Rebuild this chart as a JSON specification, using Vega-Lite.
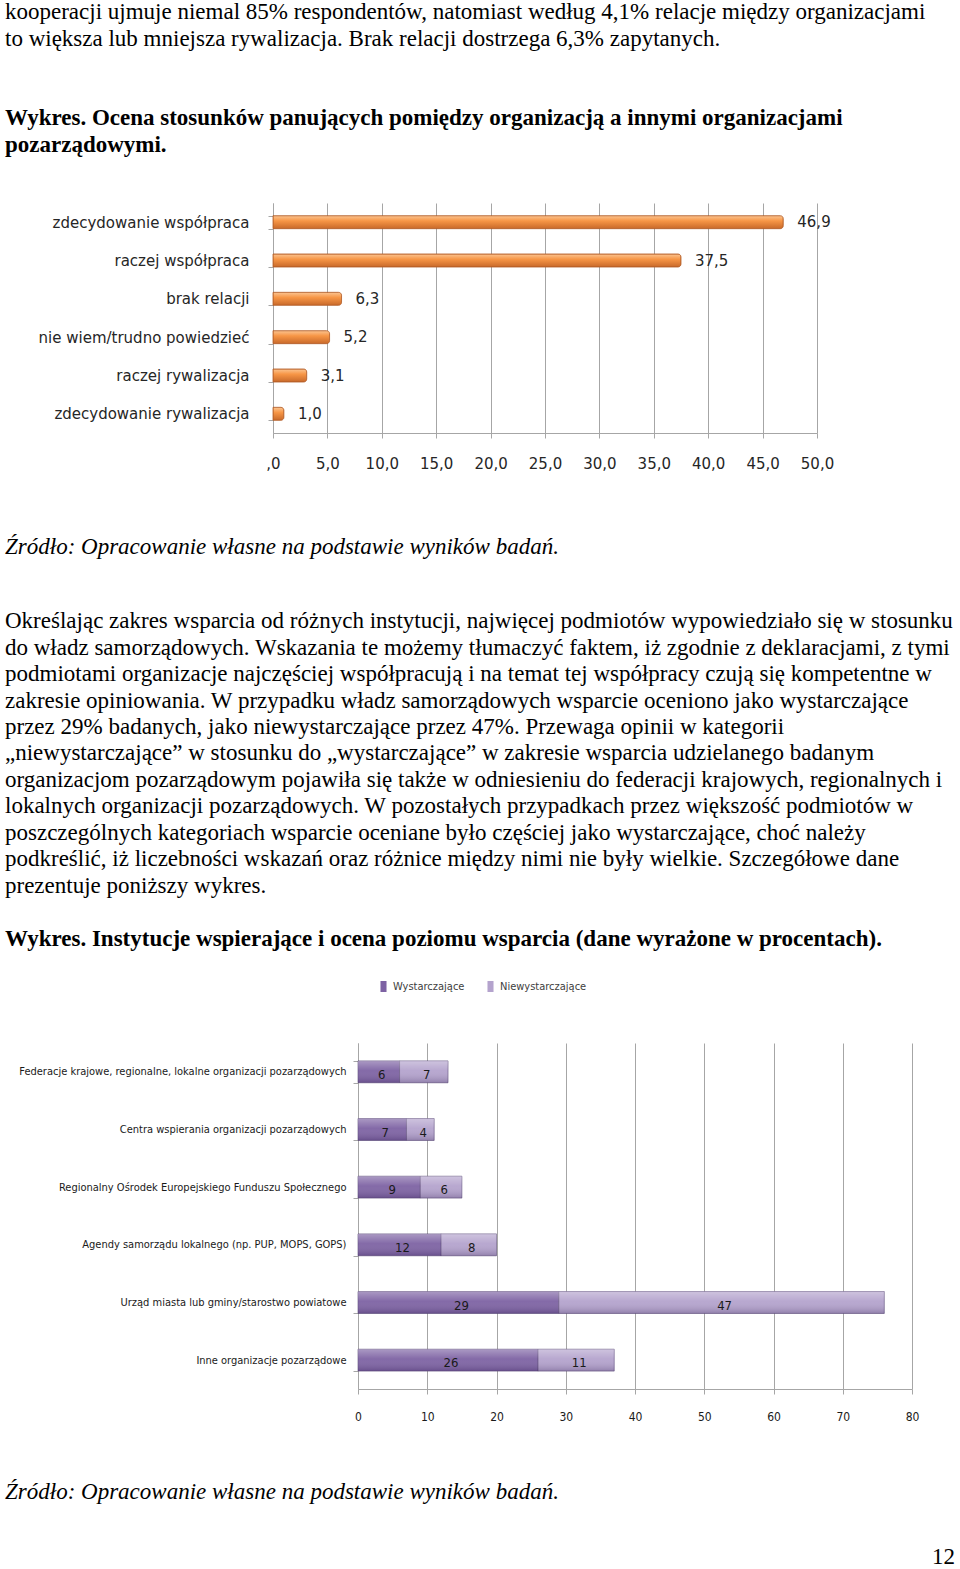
{
  "$schema": "https://vega.github.io/schema/vega-lite/v6.json",
  "padding": 0,
  "spacing": 0,
  "bounds": "flush",
  "background": "white",
  "config": {"view": {"stroke": null}},
  "vconcat": [
    {
      "width": 960, "height": 203,
      "data": {"values": [
        {"line": 0, "styl": "normal", "tekst": "kooperacji ujmuje niemal 85% respondentów, natomiast według 4,1%  relacje między organizacjami"},
        {"line": 1, "styl": "normal", "tekst": "to większa lub mniejsza rywalizacja. Brak relacji dostrzega 6,3% zapytanych."},
        {"line": 4, "styl": "bold", "tekst": "Wykres. Ocena stosunków panujących pomiędzy organizacją a innymi organizacjami"},
        {"line": 5, "styl": "bold", "tekst": "pozarządowymi."}
      ]},
      "encoding": {
        "y": {"field": "line", "type": "quantitative", "scale": {"domain": [-0.453, 7.207], "range": [0, 203]}, "axis": null},
        "x": {"datum": 0, "type": "quantitative", "scale": {"domain": [0, 1], "range": [5, 955]}, "axis": null},
        "text": {"field": "tekst"}
      },
      "layer": [
        {"transform": [{"filter": "datum.styl === 'normal'"}], "mark": {"type": "text", "align": "left", "baseline": "middle", "font": "Liberation Serif", "fontSize": 23, "color": "#000"}},
        {"transform": [{"filter": "datum.styl === 'bold'"}], "mark": {"type": "text", "align": "left", "baseline": "middle", "font": "Liberation Serif", "fontSize": 23, "fontWeight": "bold", "color": "#000"}}
      ]
    },
    {
      "width": 960, "height": 230,
      "data": {"values": [
        {"kategoria": "zdecydowanie współpraca", "procent": 46.9},
        {"kategoria": "raczej współpraca", "procent": 37.5},
        {"kategoria": "brak relacji", "procent": 6.3},
        {"kategoria": "nie wiem/trudno powiedzieć", "procent": 5.2},
        {"kategoria": "raczej rywalizacja", "procent": 3.1},
        {"kategoria": "zdecydowanie rywalizacja", "procent": 1.0}
      ]},
      "transform": [{"calculate": "replace(format(datum.procent, '.1f'), '.', ',')", "as": "etykieta"}],
      "encoding": {
        "y": {"field": "kategoria", "type": "nominal", "sort": null,
          "scale": {"paddingInner": 0.66, "paddingOuter": 0.33},
          "axis": {"title": null, "offset": -273, "labelFont": "DejaVu Sans", "labelFontSize": 15, "labelColor": "#262626", "labelLimit": 400, "tickSize": 5, "labelPadding": 19, "domainColor": "#a6a6a6", "tickColor": "#a6a6a6", "tickBand": "extent", "grid": false}},
        "x": {"field": "procent", "type": "quantitative",
          "scale": {"domain": [0, 50], "range": [273, 817], "nice": false},
          "axis": {"title": null, "values": [0, 5, 10, 15, 20, 25, 30, 35, 40, 45, 50], "labelFlush": false, "labelExpr": "datum.value == 0 ? ',0' : replace(format(datum.value, '.1f'), '.', ',')", "labelFont": "DejaVu Sans", "labelFontSize": 15, "labelColor": "#262626", "tickSize": 5, "labelPadding": 18, "domainColor": "#a6a6a6", "tickColor": "#a6a6a6", "grid": true, "gridColor": "#a6a6a6", "gridWidth": 1}}
      },
      "layer": [
        {"mark": {"type": "bar", "stroke": "#b5602a", "strokeWidth": 0.8, "cornerRadiusEnd": 3,
          "fill": {"gradient": "linear", "x1": 0, "y1": 0, "x2": 0, "y2": 1, "stops": [
            {"offset": 0, "color": "#fbc592"}, {"offset": 0.4, "color": "#f79646"}, {"offset": 1, "color": "#c8692a"}]}}},
        {"mark": {"type": "text", "align": "left", "baseline": "middle", "dx": 14, "font": "DejaVu Sans", "fontSize": 15, "color": "#262626"},
          "encoding": {"text": {"field": "etykieta"}}}
      ]
    },
    {
      "width": 960, "height": 157,
      "data": {"values": [
        {"line": 0, "tekst": "Źródło: Opracowanie własne na podstawie wyników badań."}
      ]},
      "mark": {"type": "text", "align": "left", "baseline": "middle", "font": "Liberation Serif", "fontSize": 23, "fontStyle": "italic", "color": "#000"},
      "encoding": {
        "y": {"field": "line", "type": "quantitative", "scale": {"domain": [-4.302, 1.623], "range": [0, 157]}, "axis": null},
        "x": {"datum": 0, "type": "quantitative", "scale": {"domain": [0, 1], "range": [5, 955]}, "axis": null},
        "text": {"field": "tekst"}
      }
    },
    {
      "width": 960, "height": 453,
      "data": {"values": [
        {"line": 0, "styl": "normal", "tekst": "Określając zakres wsparcia od różnych instytucji, najwięcej podmiotów wypowiedziało się w stosunku"},
        {"line": 1, "styl": "normal", "tekst": "do władz samorządowych. Wskazania te możemy tłumaczyć faktem, iż zgodnie z deklaracjami, z tymi"},
        {"line": 2, "styl": "normal", "tekst": "podmiotami organizacje najczęściej współpracują i na temat tej współpracy czują się kompetentne w"},
        {"line": 3, "styl": "normal", "tekst": "zakresie opiniowania. W przypadku władz samorządowych wsparcie oceniono jako wystarczające"},
        {"line": 4, "styl": "normal", "tekst": "przez 29% badanych, jako niewystarczające przez 47%. Przewaga opinii w kategorii"},
        {"line": 5, "styl": "normal", "tekst": "„niewystarczające” w stosunku do „wystarczające” w zakresie wsparcia udzielanego badanym"},
        {"line": 6, "styl": "normal", "tekst": "organizacjom pozarządowym pojawiła się także w odniesieniu do federacji krajowych, regionalnych i"},
        {"line": 7, "styl": "normal", "tekst": "lokalnych organizacji pozarządowych. W pozostałych przypadkach przez większość podmiotów w"},
        {"line": 8, "styl": "normal", "tekst": "poszczególnych kategoriach wsparcie oceniane było częściej jako wystarczające, choć należy"},
        {"line": 9, "styl": "normal", "tekst": "podkreślić, iż liczebności wskazań oraz różnice między nimi nie były wielkie. Szczegółowe dane"},
        {"line": 10, "styl": "normal", "tekst": "prezentuje poniższy wykres."},
        {"line": 12, "styl": "bold", "tekst": "Wykres. Instytucje wspierające i ocena poziomu wsparcia (dane wyrażone w procentach)."}
      ]},
      "encoding": {
        "y": {"field": "line", "type": "quantitative", "scale": {"domain": [-1.17, 15.925], "range": [0, 453]}, "axis": null},
        "x": {"datum": 0, "type": "quantitative", "scale": {"domain": [0, 1], "range": [5, 955]}, "axis": null},
        "text": {"field": "tekst"}
      },
      "layer": [
        {"transform": [{"filter": "datum.styl === 'normal'"}], "mark": {"type": "text", "align": "left", "baseline": "middle", "font": "Liberation Serif", "fontSize": 23, "color": "#000"}},
        {"transform": [{"filter": "datum.styl === 'bold'"}], "mark": {"type": "text", "align": "left", "baseline": "middle", "font": "Liberation Serif", "fontSize": 23, "fontWeight": "bold", "color": "#000"}}
      ]
    },
    {
      "width": 960, "height": 346,
      "data": {"values": [
        {"instytucja": "Federacje krajowe, regionalne, lokalne organizacji pozarządowych", "ocena": "Wystarczające", "wartosc": 6},
        {"instytucja": "Federacje krajowe, regionalne, lokalne organizacji pozarządowych", "ocena": "Niewystarczające", "wartosc": 7},
        {"instytucja": "Centra wspierania organizacji pozarządowych", "ocena": "Wystarczające", "wartosc": 7},
        {"instytucja": "Centra wspierania organizacji pozarządowych", "ocena": "Niewystarczające", "wartosc": 4},
        {"instytucja": "Regionalny Ośrodek Europejskiego Funduszu Społecznego", "ocena": "Wystarczające", "wartosc": 9},
        {"instytucja": "Regionalny Ośrodek Europejskiego Funduszu Społecznego", "ocena": "Niewystarczające", "wartosc": 6},
        {"instytucja": "Agendy samorządu lokalnego (np. PUP, MOPS, GOPS)", "ocena": "Wystarczające", "wartosc": 12},
        {"instytucja": "Agendy samorządu lokalnego (np. PUP, MOPS, GOPS)", "ocena": "Niewystarczające", "wartosc": 8},
        {"instytucja": "Urząd miasta lub gminy/starostwo powiatowe", "ocena": "Wystarczające", "wartosc": 29},
        {"instytucja": "Urząd miasta lub gminy/starostwo powiatowe", "ocena": "Niewystarczające", "wartosc": 47},
        {"instytucja": "Inne organizacje pozarządowe", "ocena": "Wystarczające", "wartosc": 26},
        {"instytucja": "Inne organizacje pozarządowe", "ocena": "Niewystarczające", "wartosc": 11}
      ]},
      "transform": [
        {"stack": "wartosc", "groupby": ["instytucja"], "sort": [{"field": "ocena", "order": "descending"}], "as": ["v0", "v1"]},
        {"calculate": "(datum.v0 + datum.v1) / 2", "as": "srodek"}
      ],
      "encoding": {
        "y": {"field": "instytucja", "type": "nominal", "sort": null,
          "scale": {"paddingInner": 0.62, "paddingOuter": 0.31},
          "axis": {"title": null, "offset": -358, "labelFont": "Liberation Sans Narrow, DejaVu Sans Condensed, sans-serif", "labelFontSize": 11, "labelColor": "#1a1a1a", "labelLimit": 500, "tickSize": 5, "labelPadding": 7, "domainColor": "#a6a6a6", "tickColor": "#a6a6a6", "tickBand": "extent", "grid": false}}
      },
      "layer": [
        {"mark": {"type": "bar", "stroke": "#5b4a78", "strokeWidth": 0.6},
          "encoding": {
            "x": {"field": "v0", "type": "quantitative",
              "scale": {"domain": [0, 80], "range": [358, 912], "nice": false},
              "axis": {"title": null, "values": [0, 10, 20, 30, 40, 50, 60, 70, 80], "labelFlush": false, "labelFont": "Liberation Sans Narrow, DejaVu Sans Condensed, sans-serif", "labelFontSize": 12, "labelColor": "#1a1a1a", "tickSize": 5, "labelPadding": 17, "domainColor": "#a6a6a6", "tickColor": "#a6a6a6", "grid": true, "gridColor": "#a6a6a6", "gridWidth": 1}},
            "x2": {"field": "v1"},
            "color": {"field": "ocena", "type": "nominal",
              "scale": {"domain": ["Wystarczające", "Niewystarczające"], "range": ["#7d62a3", "#b4a3cd"]},
              "legend": {"title": null, "orient": "none", "legendX": 378, "legendY": 981, "direction": "horizontal", "symbolType": "M-0.55,-1L0.55,-1L0.55,1L-0.55,1Z", "symbolSize": 121, "symbolStrokeWidth": 0, "labelFont": "Liberation Sans Narrow, DejaVu Sans Condensed, sans-serif", "labelFontSize": 11, "labelColor": "#404040", "labelOffset": 4, "columnPadding": 20}}
          }},
        {"mark": {"type": "bar",
          "fill": {"gradient": "linear", "x1": 0, "y1": 0, "x2": 0, "y2": 1, "stops": [
            {"offset": 0, "color": "rgba(255,255,255,0.35)"}, {"offset": 0.45, "color": "rgba(255,255,255,0.05)"}, {"offset": 1, "color": "rgba(40,20,70,0.25)"}]}},
          "encoding": {
            "x": {"field": "v0", "type": "quantitative", "axis": {"title": null}},
            "x2": {"field": "v1"}
          }},
        {"mark": {"type": "text", "align": "center", "baseline": "middle", "dx": 3, "dy": 3, "font": "Liberation Sans Narrow, DejaVu Sans Condensed, sans-serif", "fontSize": 13, "color": "#1a1a1a"},
          "encoding": {
            "x": {"field": "srodek", "type": "quantitative", "axis": {"title": null}},
            "text": {"field": "wartosc"}
          }}
      ]
    },
    {
      "width": 960, "height": 141,
      "data": {"values": [
        {"line": 0, "tekst": "Źródło: Opracowanie własne na podstawie wyników badań."}
      ]},
      "mark": {"type": "text", "align": "left", "baseline": "middle", "font": "Liberation Serif", "fontSize": 23, "fontStyle": "italic", "color": "#000"},
      "encoding": {
        "y": {"field": "line", "type": "quantitative", "scale": {"domain": [-3.887, 1.434], "range": [0, 141]}, "axis": null},
        "x": {"datum": 0, "type": "quantitative", "scale": {"domain": [0, 1], "range": [5, 955]}, "axis": null},
        "text": {"field": "tekst"}
      }
    },
    {
      "width": 960, "height": 39,
      "data": {"values": [
        {"line": 0, "kolumna": 1, "tekst": "12"}
      ]},
      "mark": {"type": "text", "align": "right", "baseline": "middle", "font": "Liberation Serif", "fontSize": 23, "color": "#000"},
      "encoding": {
        "y": {"field": "line", "type": "quantitative", "scale": {"domain": [-1.019, 0.453], "range": [0, 39]}, "axis": null},
        "x": {"field": "kolumna", "type": "quantitative", "scale": {"domain": [0, 1], "range": [5, 955]}, "axis": null},
        "text": {"field": "tekst"}
      }
    }
  ]
}
